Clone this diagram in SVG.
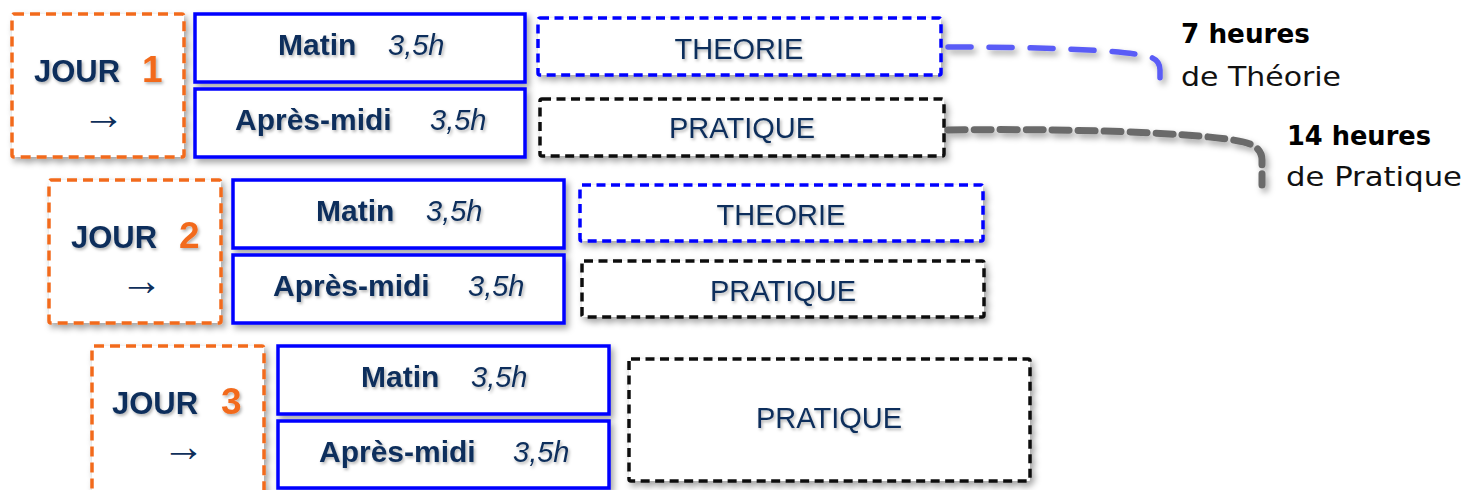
<svg xmlns="http://www.w3.org/2000/svg" width="1467" height="490" viewBox="0 0 1467 490">
<defs>
<filter id="sh" x="-10%" y="-20%" width="130%" height="150%">
<feDropShadow dx="3" dy="4" stdDeviation="3" flood-color="#000" flood-opacity="0.35"/>
</filter>
<filter id="tsh" x="-10%" y="-20%" width="130%" height="160%">
<feDropShadow dx="1.5" dy="2" stdDeviation="1.5" flood-color="#000" flood-opacity="0.3"/>
</filter>
</defs>
<style>
.day{fill:#fff;stroke:#f26b1d;stroke-width:3.5;stroke-dasharray:10 6;filter:url(#sh)}
.slot{fill:#fff;stroke:#0000ff;stroke-width:3.5;filter:url(#sh)}
.theo{fill:#fff;stroke:#0000ff;stroke-width:3.5;stroke-dasharray:9 5.5;filter:url(#sh)}
.prat{fill:#fff;stroke:#111;stroke-width:3.5;stroke-dasharray:9 5.5;filter:url(#sh)}
text{font-family:"Liberation Sans",Arial,sans-serif;fill:#0f2f5b}
.b{font-weight:bold;font-size:30px;filter:url(#tsh)}
.j{font-weight:bold;font-size:31px;filter:url(#tsh)}
.h{font-style:italic;font-size:29px;filter:url(#tsh)}
.n{font-size:37px;fill:#f26b1d;font-weight:bold;filter:url(#tsh)}
.arr{font-family:"Liberation Serif","DejaVu Serif",serif;font-size:43px}
.lbl{font-size:29px;text-anchor:middle;filter:url(#tsh)}
.rb{font-family:"DejaVu Sans",sans-serif;font-weight:bold;font-size:27px;fill:#000}
.rr{font-family:"DejaVu Sans",sans-serif;font-size:27px;fill:#111}
.c{fill:none;stroke-linecap:round;filter:url(#sh)}
</style>

<g id="jour1">
<rect class="day" x="12" y="14" width="172" height="143" rx="2"/>
<text class="j" x="34" y="82">JOUR</text>
<text class="n" x="142" y="82">1</text>
<text class="arr" x="82" y="129">→</text>
</g>
<g id="j1-matin">
<rect class="slot" x="195" y="14" width="330" height="68"/>
<text class="b" x="278" y="55">Matin</text>
<text class="h" x="388" y="55">3,5h</text>
</g>
<g id="j1-apm">
<rect class="slot" x="195" y="89" width="330" height="68"/>
<text class="b" x="235" y="130">Après-midi</text>
<text class="h" x="430" y="130">3,5h</text>
</g>
<g id="j1-theorie">
<rect class="theo" x="538" y="18" width="403" height="57" rx="2"/>
<text class="lbl" x="739" y="59">THEORIE</text>
</g>
<g id="j1-pratique">
<rect class="prat" x="540" y="99" width="404" height="57" rx="2"/>
<text class="lbl" x="742" y="138">PRATIQUE</text>
</g>

<g id="jour2">
<rect class="day" x="49" y="180" width="172" height="143" rx="2"/>
<text class="j" x="71" y="248">JOUR</text>
<text class="n" x="179" y="248">2</text>
<text class="arr" x="120" y="295">→</text>
</g>
<g id="j2-matin">
<rect class="slot" x="233" y="180" width="331" height="68"/>
<text class="b" x="316" y="221">Matin</text>
<text class="h" x="426" y="221">3,5h</text>
</g>
<g id="j2-apm">
<rect class="slot" x="233" y="255" width="331" height="68"/>
<text class="b" x="273" y="296">Après-midi</text>
<text class="h" x="468" y="296">3,5h</text>
</g>
<g id="j2-theorie">
<rect class="theo" x="580" y="185" width="403" height="56" rx="2"/>
<text class="lbl" x="781" y="225">THEORIE</text>
</g>
<g id="j2-pratique">
<rect class="prat" x="582" y="261" width="402" height="56" rx="2"/>
<text class="lbl" x="783" y="301">PRATIQUE</text>
</g>

<g id="jour3">
<rect class="day" x="92" y="346" width="172" height="150" rx="2"/>
<text class="j" x="112" y="414">JOUR</text>
<text class="n" x="221" y="414">3</text>
<text class="arr" x="162" y="461">→</text>
</g>
<g id="j3-matin">
<rect class="slot" x="278" y="346" width="331" height="68"/>
<text class="b" x="361" y="387">Matin</text>
<text class="h" x="471" y="387">3,5h</text>
</g>
<g id="j3-apm">
<rect class="slot" x="278" y="421" width="331" height="67"/>
<text class="b" x="319" y="462">Après-midi</text>
<text class="h" x="513" y="462">3,5h</text>
</g>
<g id="j3-pratique">
<rect class="prat" x="629" y="359" width="401" height="122" rx="2"/>
<text class="lbl" x="829" y="428">PRATIQUE</text>
</g>

<g id="connectors">
<path class="c" d="M 948 47 C 1060 47 1130 51 1150 57 Q 1160 60 1160 70 L 1160 86" stroke="#5a5cf6" stroke-width="5.5" stroke-dasharray="23 18"/>
<path class="c" d="M 948 130 C 1090 128 1225 134 1250 144 Q 1262 149 1262 160 L 1262 185" stroke="#6b6b6b" stroke-width="7" stroke-dasharray="17 9"/>
</g>

<g id="summary">
<text class="rb" x="1181" y="43" textLength="129" lengthAdjust="spacingAndGlyphs">7 heures</text>
<text class="rr" x="1181" y="86" textLength="160" lengthAdjust="spacingAndGlyphs">de Théorie</text>
<text class="rb" x="1287" y="145" textLength="144" lengthAdjust="spacingAndGlyphs">14 heures</text>
<text class="rr" x="1286" y="186" textLength="176" lengthAdjust="spacingAndGlyphs">de Pratique</text>
</g>
</svg>
